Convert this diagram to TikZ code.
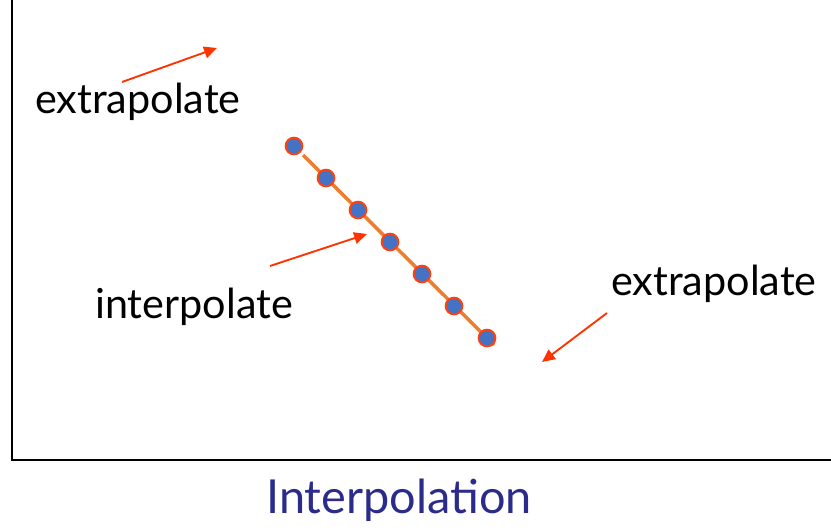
\documentclass[tikz,border=0pt]{standalone}
\usepackage{fontspec}
\setmainfont{Lato}
\usepackage{xcolor}
\usetikzlibrary{arrows.meta,positioning}
\definecolor{dotblue}{HTML}{4472C4}
\definecolor{rimred}{HTML}{FF4010}
\definecolor{lineorange}{HTML}{ED7D31}
\definecolor{arrowred}{HTML}{FF3300}
\definecolor{titleblue}{HTML}{2B2B8C}

\begin{document}
\begin{tikzpicture}[x=0.03cm,y=-0.03cm,>={Triangle[length=11pt,width=10pt]}]
\tikzstyle{word}=[anchor=base west, inner sep=0pt, font=\fontsize{35.3}{40}\selectfont]
\tikzstyle{sample}=[circle, draw=rimred, fill=dotblue, line width=1.7pt, minimum size=0.5cm, inner sep=0pt]
\tikzstyle{hint}=[->, draw=arrowred, line width=1.6pt]
\useasboundingbox (0,0) rectangle (831,530);
% axes
\coordinate (top) at (12,0);
\coordinate (origin) at (12,460);
\coordinate (right) at (831,460);
\draw[line width=1.6pt] (top) -- (origin) -- (right);
% fitted line through the samples
\coordinate (fitA) at (303,155);
\coordinate (fitB) at (494,345);
\draw[lineorange, line width=3pt] (fitA) -- (fitB);
\node[sample] (s1) at (294,146) {};
\node[sample] (s2) at (326,178) {};
\node[sample] (s3) at (358,210) {};
\node[sample] (s4) at (390,242) {};
\node[sample] (s5) at (422,274) {};
\node[sample] (s6) at (454,306) {};
\node[sample] (s7) at (487,338) {};
% labels
\node[word] (extraL) at (35,113) {extrapolate};
\node[word] (inter) at (95,318) {interpolate};
\node[word] (extraR) at (611,295) {extrapolate};
\node[word, text=titleblue, font=\fontsize{40}{46}\selectfont] (title) at (266,513) {Interpolation};
% arrows
\coordinate (upStart) at (122,82);
\coordinate (upEnd) at (217,48);
\coordinate (midStart) at (270,266);
\coordinate (midEnd) at (367,234);
\coordinate (downStart) at (607,313);
\coordinate (downEnd) at (542,362);
\draw[hint] (upStart) -- (upEnd);
\draw[hint] (midStart) -- (midEnd);
\draw[hint] (downStart) -- (downEnd);
\end{tikzpicture}
\end{document}
